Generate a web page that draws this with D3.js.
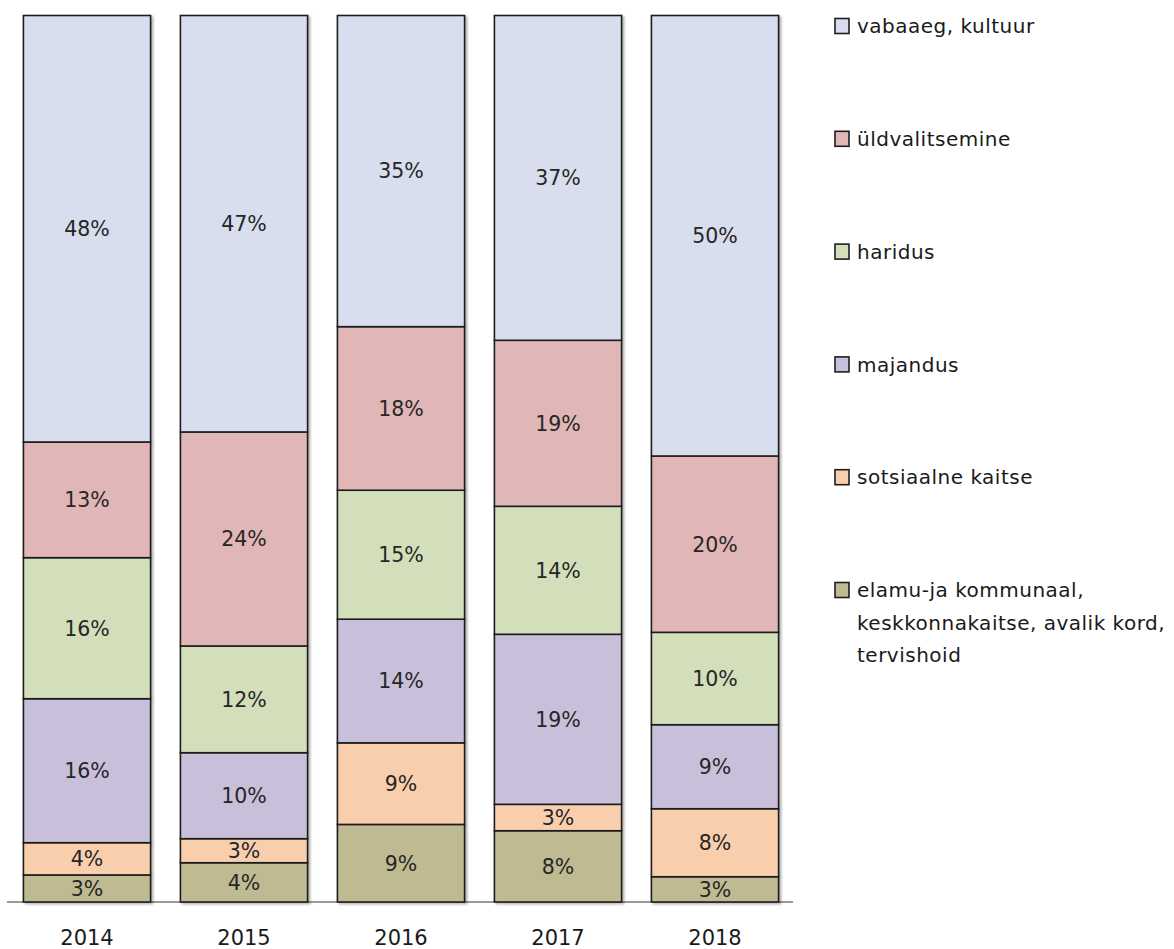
<!DOCTYPE html>
<html>
<head>
<meta charset="utf-8">
<script src="https://cdn.jsdelivr.net/npm/d3@7"></script>
<style>
  html, body { margin: 0; padding: 0; background: #fff; }
  svg { display: block; }
  text { font-family: "DejaVu Sans", Verdana, sans-serif; }
</style>
</head>
<body>
<svg id="chart" width="1174" height="949"></svg>
<script>
// ---- data ----
const years = ["2014", "2015", "2016", "2017", "2018"];
// stacking order: bottom to top
const seriesNames = [
  "elamu-ja kommunaal, keskkonnakaitse, avalik kord, tervishoid",
  "sotsiaalne kaitse",
  "majandus",
  "haridus",
  "üldvalitsemine",
  "vabaaeg, kultuur"
];
const elamu      = [3.05, 4.43, 8.75, 8.04, 2.85];
const sotsiaalne = [3.64, 2.71, 9.20, 2.98, 7.67];
const majandus   = [16.24, 9.70, 13.95, 19.18, 9.48];
const haridus    = [15.91, 12.04, 14.55, 14.44, 10.42];
const yldvalits  = [13.05, 24.14, 18.45, 18.73, 19.89];
const vabaaeg    = [48.11, 46.98, 35.10, 36.64, 49.69];
const seriesValues = [elamu, sotsiaalne, majandus, haridus, yldvalits, vabaaeg];
const colors = ["#BFBA92", "#F8CEAD", "#C8C0DA", "#D2DFBA", "#E1B6B7", "#D8DEED"];
// legend order (top to bottom) with wrapped lines
const legendItems = [
  { key: 5, lines: ["vabaaeg, kultuur"] },
  { key: 4, lines: ["üldvalitsemine"] },
  { key: 3, lines: ["haridus"] },
  { key: 2, lines: ["majandus"] },
  { key: 1, lines: ["sotsiaalne kaitse"] },
  { key: 0, lines: ["elamu-ja kommunaal,", "keskkonnakaitse, avalik kord,", "tervishoid"] }
];

// ---- build table ----
const table = years.map((y, i) => {
  const row = { year: y };
  seriesNames.forEach((s, k) => row[s] = seriesValues[k][i]);
  return row;
});
const stack = d3.stack().keys(seriesNames).offset(d3.stackOffsetExpand);
const stacked = stack(table);

const svg = d3.select("#chart");
const defs = svg.append("defs");
const f = defs.append("filter").attr("id", "shadow").attr("x", "-10%").attr("y", "-5%").attr("width", "125%").attr("height", "115%");
f.append("feDropShadow").attr("dx", 2).attr("dy", 1.5).attr("stdDeviation", 1.2).attr("flood-color", "#000").attr("flood-opacity", 0.3);

const x = d3.scaleBand().domain(years).range([8.5, 793.5]).paddingInner(0.19).paddingOuter(0.095);
const y = d3.scaleLinear().domain([0, 1]).range([902, 15.5]);

// axis baseline
svg.append("line")
  .attr("x1", 7).attr("x2", 793).attr("y1", 902).attr("y2", 902)
  .attr("stroke", "#9a9a9a").attr("stroke-width", 2);

// bars
const barG = svg.append("g");
years.forEach((yr, i) => {
  const g = barG.append("g").attr("filter", "url(#shadow)");
  stacked.forEach((layer, k) => {
    const d = layer[i];
    g.append("rect")
      .attr("x", x(yr))
      .attr("width", x.bandwidth())
      .attr("y", y(d[1]))
      .attr("height", y(d[0]) - y(d[1]))
      .attr("fill", colors[k])
      .attr("stroke", "#1e1e1e")
      .attr("stroke-width", 1.6);
  });
});

// value labels
years.forEach((yr, i) => {
  stacked.forEach((layer, k) => {
    const d = layer[i];
    svg.append("text")
      .attr("x", x(yr) + x.bandwidth() / 2)
      .attr("y", (y(d[0]) + y(d[1])) / 2)
      .attr("dy", "0.36em")
      .attr("text-anchor", "middle")
      .attr("font-size", 20.5)
      .attr("fill", "#262626")
      .text(Math.round(seriesValues[k][i]) + "%");
  });
});

// x axis labels
const xAxis = d3.axisBottom(x).tickSize(0).tickPadding(0);
const ax = svg.append("g").attr("transform", "translate(0,902)").call(xAxis);
ax.select(".domain").remove();
ax.selectAll("text")
  .attr("y", 35)
  .attr("dy", "0.36em")
  .attr("font-size", 21)
  .attr("font-family", "DejaVu Sans, sans-serif")
  .attr("fill", "#1a1a1a");

// legend
const legendY = d3.scaleLinear().domain([0, 5]).range([26, 590]);
legendItems.forEach((it, i) => {
  const cy = legendY(i);
  svg.append("rect")
    .attr("x", 835).attr("y", cy - 7.5)
    .attr("width", 14).attr("height", 15)
    .attr("fill", colors[it.key])
    .attr("stroke", "#1e1e1e").attr("stroke-width", 1.6);
  it.lines.forEach((ln, j) => {
    svg.append("text")
      .attr("x", 857)
      .attr("y", cy + j * 32.5)
      .attr("dy", "0.36em")
      .attr("font-size", 20)
      .attr("letter-spacing", 0.5)
      .attr("fill", "#1a1a1a")
      .text(ln);
  });
});
</script>
</body>
</html>
